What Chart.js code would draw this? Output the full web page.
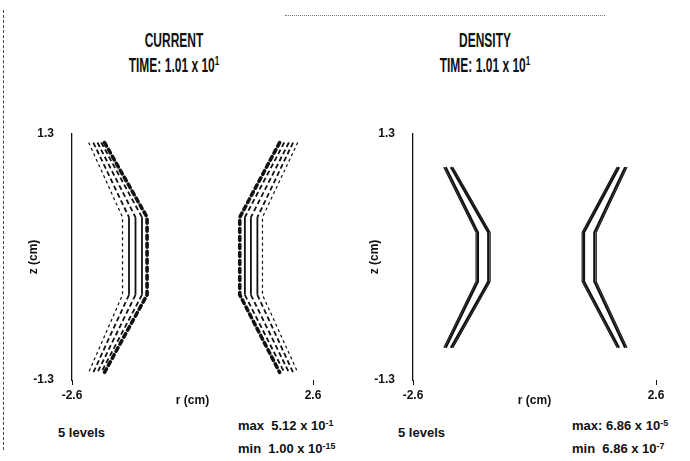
<!DOCTYPE html>
<html>
<head>
<meta charset="utf-8">
<script src="https://cdn.jsdelivr.net/npm/chart.js@4.4.1/dist/chart.umd.min.js"></script>
<style>
  html, body { margin: 0; padding: 0; background: #fff; }
  body { width: 690px; height: 461px; position: relative; overflow: hidden;
         font-family: "Liberation Sans", Arial, sans-serif;
         font-weight: bold; color: #111; }
  canvas { position: absolute; top: 0; }
  .title { position: absolute; width: 220px; text-align: center; font-size: 20px; line-height: 25px;
           transform: scaleX(0.6); transform-origin: 50% 0; }
  .note { position: absolute; font-size: 13px; line-height: 14px; white-space: nowrap; }
  sup { font-size: 0.68em; vertical-align: 0.5em; line-height: 0; }
  .edge { position: absolute; left: 3px; top: 10px; height: 440px; border-left: 1px dashed #444; }
  .scan { position: absolute; left: 285px; top: 15px; width: 320px; border-top: 1px dotted #777; }
</style>
</head>
<body>
<div class="edge"></div>
<div class="scan"></div>

<div class="title" style="left:64px; top:28px;">CURRENT<br>TIME: 1.01 x 10<sup>1</sup></div>
<div class="title" style="left:375px; top:28px;">DENSITY<br>TIME: 1.01 x 10<sup>1</sup></div>

<div class="note" style="left:58px; top:426px;">5 levels</div>
<div class="note" style="left:238px; top:419px;">max&nbsp; 5.12 x 10<sup>-1</sup></div>
<div class="note" style="left:238px; top:442px;">min&nbsp; 1.00 x 10<sup>-15</sup></div>
<div class="note" style="left:398px; top:426px;">5 levels</div>
<div class="note" style="left:572px; top:419px;">max: 6.86 x 10<sup>-5</sup></div>
<div class="note" style="left:572px; top:442px;">min&nbsp; 6.86 x 10<sup>-7</sup></div>

<canvas id="current" width="345" height="461" style="left:0px"></canvas>
<canvas id="density" width="345" height="461" style="left:345px"></canvas>

<script>
// axis ticks
const xTicks = [-2.6, 2.6];
const xTickLabels = ['-2.6', '2.6'];
const yTicks = [-1.3, 1.3];
const yTickLabels = ['-1.3', '1.3'];

// current contours: z of the four corners, r at the ends / at the waist (outer -> inner)
const curZ = [1.21, 0.42, -0.40, -1.22];
const curLeftEnd = [-2.24, -2.14, -2.05, -1.97, -1.90];
const curLeftMid = [-1.51, -1.37, -1.23, -1.09, -0.98];
const curRightEnd = [2.27, 2.17, 2.08, 1.98, 1.88];
const curRightMid = [1.51, 1.40, 1.26, 1.13, 1.02];

// density contours
const denZ = [0.95, 0.26, -0.26, -0.96];
const denLeftEnd = [-1.94, -1.90, -1.79, -1.75];
const denLeftMid = [-1.25, -1.21, -0.99, -0.95];
const denRightEnd = [1.98, 1.94, 1.81, 1.77];
const denRightMid = [1.32, 1.28, 1.06, 1.02];

const INK = '#111';
const FONT = 'Liberation Sans';

function contour(ends, mids, z, i) {
    return [
        { x: ends[i], y: z[0] },
        { x: mids[i], y: z[1] },
        { x: mids[i], y: z[2] },
        { x: ends[i], y: z[3] },
    ];
}

// dashed on the slanted parts, solid along the waist
const dashSlant = (dash) => ctx => ctx.p0DataIndex === 1 ? [] : dash;

function currentStyle(i) {
    if (i === 0) return { borderWidth: 1.2, borderDash: [3, 3] };
    if (i === 4) return { borderWidth: 3.6, borderDash: [4, 4], borderCapStyle: 'round' };
    return { borderWidth: 1.8, segment: { borderDash: dashSlant([5, 3]) } };
}

function densityStyle(i) {
    if (i === 0 || i === 3) return { borderWidth: 1.2 };
    return { borderWidth: 2.2 };
}

function buildSets(bands, z, style) {
    const sets = [];
    bands.forEach(([ends, mids]) => {
        ends.forEach((_, i) => {
            sets.push(Object.assign({
                data: contour(ends, mids, z, i),
                showLine: true,
                pointRadius: 0,
                borderColor: INK,
                fill: false,
                tension: 0,
            }, style(i)));
        });
    });
    return sets;
}

function makePanel(id, datasets, pad, yDash) {
    return new Chart(document.getElementById(id), {
        type: 'scatter',
        data: { datasets },
        options: {
            responsive: false,
            animation: false,
            layout: { padding: pad },
            plugins: { legend: { display: false }, tooltip: { enabled: false } },
            scales: {
                x: {
                    type: 'linear', min: -2.6, max: 2.6,
                    afterBuildTicks: s => { s.ticks = xTicks.map(v => ({ value: v })); },
                    afterFit: s => { s.height = 30; },
                    ticks: {
                        autoSkip: false, maxRotation: 0, padding: 3, color: INK,
                        font: { family: FONT, size: 12, weight: 'bold' },
                        callback: (v, i) => xTickLabels[i],
                    },
                    grid: { display: true, drawOnChartArea: false, drawTicks: true, tickLength: 5, color: INK },
                    border: { display: false },
                    title: {
                        display: true, text: 'r (cm)', color: INK,
                        font: { family: FONT, size: 12, weight: 'bold' },
                        padding: { top: 0, bottom: 2 },
                    },
                },
                y: {
                    type: 'linear', min: -1.3, max: 1.3,
                    afterBuildTicks: s => { s.ticks = yTicks.map(v => ({ value: v })); },
                    afterFit: s => { s.width = 50; },
                    ticks: {
                        autoSkip: false, padding: 10, color: INK,
                        font: { family: FONT, size: 12, weight: 'bold' },
                        callback: (v, i) => yTickLabels[i],
                    },
                    grid: { display: false },
                    border: { display: true, color: INK, width: 1.3, dash: yDash },
                    title: {
                        display: true, text: 'z (cm)', color: INK,
                        font: { family: FONT, size: 12, weight: 'bold' },
                        padding: { top: 4, bottom: 0 },
                    },
                },
            },
        },
    });
}

makePanel('current',
    buildSets([[curLeftEnd, curLeftMid], [curRightEnd, curRightMid]], curZ, currentStyle),
    { left: 22, right: 32, top: 134, bottom: 51 }, [14, 3]);

makePanel('density',
    buildSets([[denLeftEnd, denLeftMid], [denRightEnd, denRightMid]], denZ, densityStyle),
    { left: 18, right: 34, top: 134, bottom: 51 }, []);
</script>
</body>
</html>
